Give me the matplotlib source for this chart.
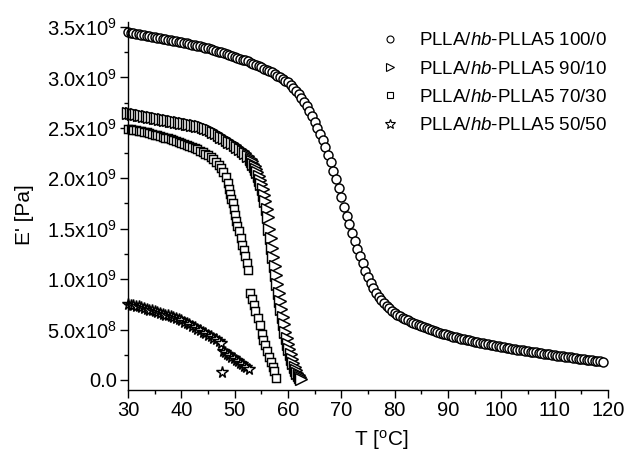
import matplotlib
matplotlib.use("Agg")
import matplotlib.pyplot as plt
from matplotlib.lines import Line2D
from matplotlib.ticker import MultipleLocator, FixedLocator

plt.rcParams['font.family'] = ['Liberation Sans', 'DejaVu Sans']
plt.rcParams['mathtext.fontset'] = 'custom'
plt.rcParams['mathtext.rm'] = 'Liberation Sans'
plt.rcParams['mathtext.it'] = 'Liberation Sans:italic'
plt.rcParams['mathtext.bf'] = 'Liberation Sans:bold'

# ---------------- data (E' in units of 1e9 Pa) ----------------
T_100 = [30.0, 30.5, 31.0, 31.5, 32.0, 32.5, 33.0, 33.5, 34.0, 34.5,
         35.0, 35.5, 36.0, 36.5, 37.0, 37.5, 38.0, 38.5, 39.0, 39.5,
         40.0, 40.5, 41.0, 41.5, 42.0, 42.5, 43.0, 43.5, 44.0, 44.5,
         45.0, 45.5, 46.0, 46.5, 47.0, 47.5, 48.0, 48.5, 49.0, 49.5,
         50.0, 50.5, 51.0, 51.5, 52.0, 52.5, 53.0, 53.5, 54.0, 54.5,
         55.0, 55.5, 56.0, 56.5, 57.0, 57.5, 58.0, 58.5, 59.0, 59.5,
         60.0, 60.5, 61.0, 61.5, 62.0, 62.5, 63.0, 63.5, 64.0, 64.5,
         65.0, 65.5, 66.0, 66.5, 67.0, 67.5, 68.0, 68.5, 69.0, 69.5,
         70.0, 70.5, 71.0, 71.5, 72.0, 72.5, 73.0, 73.5, 74.0, 74.5,
         75.0, 75.5, 76.0, 76.5, 77.0, 77.5, 78.0, 78.5, 79.0, 79.5,
         80.0, 80.5, 81.0, 81.5, 82.0, 82.5, 83.0, 83.5, 84.0, 84.5,
         85.0, 85.5, 86.0, 86.5, 87.0, 87.5, 88.0, 88.5, 89.0, 89.5,
         90.0, 90.5, 91.0, 91.5, 92.0, 92.5, 93.0, 93.5, 94.0, 94.5,
         95.0, 95.5, 96.0, 96.5, 97.0, 97.5, 98.0, 98.5, 99.0, 99.5,
         100.0, 100.5, 101.0, 101.5, 102.0, 102.5, 103.0, 103.5, 104.0, 104.5,
         105.0, 105.5, 106.0, 106.5, 107.0, 107.5, 108.0, 108.5, 109.0, 109.5,
         110.0, 110.5, 111.0, 111.5, 112.0, 112.5, 113.0, 113.5, 114.0, 114.5,
         115.0, 115.5, 116.0, 116.5, 117.0, 117.5, 118.0, 118.5, 119.0]
E_100 = [3.450, 3.445, 3.440, 3.435, 3.430, 3.425, 3.420, 3.415, 3.410, 3.405,
         3.400, 3.395, 3.390, 3.385, 3.380, 3.375, 3.370, 3.365, 3.360, 3.355,
         3.350, 3.344, 3.338, 3.332, 3.326, 3.320, 3.314, 3.308, 3.302, 3.296,
         3.290, 3.282, 3.274, 3.265, 3.257, 3.248, 3.240, 3.230, 3.220, 3.212,
         3.204, 3.195, 3.187, 3.178, 3.170, 3.159, 3.148, 3.136, 3.124, 3.112,
         3.100, 3.088, 3.076, 3.063, 3.050, 3.035, 3.018, 3.000, 2.985, 2.968,
         2.950, 2.925, 2.900, 2.870, 2.840, 2.800, 2.760, 2.715, 2.670, 2.615,
         2.560, 2.500, 2.440, 2.375, 2.310, 2.235, 2.160, 2.075, 1.990, 1.900,
         1.810, 1.720, 1.630, 1.545, 1.460, 1.380, 1.300, 1.225, 1.155, 1.085,
         1.020, 0.960, 0.910, 0.865, 0.825, 0.790, 0.760, 0.735, 0.710, 0.685,
         0.665, 0.648, 0.632, 0.617, 0.603, 0.590, 0.577, 0.565, 0.553, 0.542,
         0.532, 0.522, 0.512, 0.502, 0.493, 0.484, 0.475, 0.467, 0.459, 0.451,
         0.443, 0.436, 0.429, 0.422, 0.415, 0.409, 0.403, 0.397, 0.391, 0.385,
         0.379, 0.373, 0.368, 0.362, 0.357, 0.352, 0.347, 0.342, 0.337, 0.332,
         0.328, 0.323, 0.319, 0.314, 0.310, 0.305, 0.301, 0.297, 0.293, 0.289,
         0.285, 0.281, 0.277, 0.273, 0.269, 0.265, 0.261, 0.257, 0.253, 0.249,
         0.245, 0.241, 0.237, 0.234, 0.230, 0.227, 0.223, 0.219, 0.216, 0.212,
         0.209, 0.205, 0.201, 0.198, 0.194, 0.191, 0.187, 0.184, 0.180]

T_90 = [30.0, 30.5, 31.0, 31.5, 32.0, 32.5, 33.0, 33.5, 34.0, 34.5,
        35.0, 35.5, 36.0, 36.5, 37.0, 37.5, 38.0, 38.5, 39.0, 39.5,
        40.0, 40.5, 41.0, 41.5, 42.0, 42.5, 43.0, 43.5, 44.0, 44.5,
        45.0, 45.5, 46.0, 46.5, 47.0, 47.5, 48.0, 48.5, 49.0, 49.5,
        50.0, 50.5, 51.0, 51.5, 52.0, 52.5, 53.0, 53.25, 53.5, 53.75,
        54.0, 54.25, 54.5, 54.75, 55.0, 55.25, 55.5, 55.75, 56.0, 56.25,
        56.5, 56.75, 57.0, 57.25, 57.5, 57.75, 58.0, 58.25, 58.5, 58.75,
        59.0, 59.25, 59.5, 59.75, 60.0, 60.25, 60.5, 60.75, 61.0, 61.25,
        61.5, 61.75, 62.0, 62.25, 62.5]
E_90 = [2.650, 2.645, 2.640, 2.635, 2.630, 2.625, 2.620, 2.615, 2.610, 2.605,
        2.600, 2.596, 2.592, 2.587, 2.582, 2.577, 2.572, 2.567, 2.562, 2.557,
        2.552, 2.547, 2.542, 2.537, 2.532, 2.527, 2.522, 2.516, 2.510, 2.500,
        2.490, 2.475, 2.460, 2.445, 2.430, 2.410, 2.395, 2.380, 2.360, 2.345,
        2.330, 2.310, 2.290, 2.270, 2.250, 2.220, 2.190, 2.170, 2.145, 2.120,
        2.090, 2.060, 2.025, 1.985, 1.940, 1.890, 1.830, 1.770, 1.700, 1.620,
        1.500, 1.410, 1.310, 1.220, 1.130, 1.040, 0.950, 0.860, 0.780, 0.700,
        0.620, 0.550, 0.480, 0.420, 0.360, 0.310, 0.260, 0.210, 0.170, 0.130,
        0.100, 0.070, 0.045, 0.025, 0.010]

T_70 = [30.0, 30.5, 31.0, 31.5, 32.0, 32.5, 33.0, 33.5, 34.0, 34.5,
        35.0, 35.5, 36.0, 36.5, 37.0, 37.5, 38.0, 38.5, 39.0, 39.5,
        40.0, 40.5, 41.0, 41.5, 42.0, 42.5, 43.0, 43.5, 44.0, 44.5,
        45.0, 45.5, 46.0, 46.5, 47.0, 47.5, 47.9, 48.3, 48.7, 49.0,
        49.2, 49.4, 49.6, 49.8, 50.0, 50.2, 50.5, 50.76, 51.1, 51.45,
        51.75, 52.0, 52.25, 52.5,
        52.8, 53.24, 53.6, 53.9, 54.3, 54.7, 55.1, 55.3, 55.7, 56.1,
        56.5, 56.8, 57.1, 57.4, 57.7]
E_70 = [2.490, 2.487, 2.483, 2.478, 2.473, 2.467, 2.461, 2.455, 2.448, 2.441,
        2.434, 2.427, 2.420, 2.412, 2.404, 2.396, 2.388, 2.379, 2.370, 2.361,
        2.352, 2.342, 2.332, 2.322, 2.311, 2.300, 2.288, 2.275, 2.260, 2.245,
        2.228, 2.210, 2.190, 2.165, 2.135, 2.100, 2.060, 2.010, 1.950, 1.890,
        1.840, 1.790, 1.750, 1.700, 1.640, 1.575, 1.525, 1.475, 1.410, 1.340,
        1.290, 1.230, 1.160, 1.090,
        0.860, 0.800, 0.740, 0.680, 0.610, 0.540, 0.460, 0.400, 0.350, 0.290,
        0.230, 0.180, 0.130, 0.090, 0.020]

T_50 = [30.0, 30.5, 31.0, 31.5, 32.0, 32.5, 33.0, 33.5, 34.0, 34.5,
        35.0, 35.5, 36.0, 36.5, 37.0, 37.5, 38.0, 38.5, 39.0, 39.5,
        40.0, 40.5, 41.0, 41.5, 42.0, 42.5, 43.0, 43.5, 44.0, 44.5,
        45.0, 45.5, 46.0, 46.5, 47.0, 47.5,
        47.6,
        47.8, 48.2, 48.6, 49.0, 49.4, 49.8, 50.2, 50.6, 51.0, 51.4,
        51.8, 52.2, 52.6]
E_50 = [0.750, 0.745, 0.740, 0.735, 0.730, 0.722, 0.714, 0.706, 0.698, 0.690,
        0.680, 0.672, 0.664, 0.656, 0.648, 0.640, 0.630, 0.620, 0.610, 0.600,
        0.590, 0.578, 0.566, 0.554, 0.535, 0.521, 0.507, 0.492, 0.478, 0.463,
        0.448, 0.433, 0.418, 0.402, 0.385, 0.370,
        0.080,
        0.290, 0.275, 0.260, 0.245, 0.230, 0.215, 0.200, 0.185, 0.170, 0.155,
        0.140, 0.125, 0.110]

labels = [r'PLLA/$\it{hb}$-PLLA5 100/0', r'PLLA/$\it{hb}$-PLLA5 90/10',
          r'PLLA/$\it{hb}$-PLLA5 70/30', r'PLLA/$\it{hb}$-PLLA5 50/50']
yticks = [0.0, 0.5, 1.0, 1.5, 2.0, 2.5, 3.0, 3.5]
ytick_labels = ['0.0', r'$\mathregular{5.0x10^{8}}$', r'$\mathregular{1.0x10^{9}}$',
                r'$\mathregular{1.5x10^{9}}$', r'$\mathregular{2.0x10^{9}}$',
                r'$\mathregular{2.5x10^{9}}$', r'$\mathregular{3.0x10^{9}}$',
                r'$\mathregular{3.5x10^{9}}$']
xticks = [30, 40, 50, 60, 70, 80, 90, 100, 110, 120]

# ---------------- figure ----------------
W, H = 631, 453
fig = plt.figure(figsize=(W / 100, H / 100), dpi=100)
ax = fig.add_axes([128 / W, 63 / H, 480 / W, 368 / H])

def scale(vals):
    return [v * 1e9 for v in vals]

series = [
    (T_100, E_100, 'o', 6.5),
    (T_90, E_90, '>', 8.5),
    (T_70, E_70, 's', 5.5),
    (T_50, E_50, '*', 8.5),
]
for (tx, ey, mk, ms) in series:
    ax.plot(tx, scale(ey), linestyle='none', marker=mk, markersize=ms,
            markerfacecolor='white', markeredgecolor='black',
            markeredgewidth=1.05, clip_on=False)

ax.set_xlim(30, 120)
ax.set_ylim(-0.1e9, 3.55e9)

ax.xaxis.set_major_locator(FixedLocator(xticks))
ax.xaxis.set_minor_locator(MultipleLocator(5))
ax.set_xticklabels([str(v) for v in xticks])
ax.yaxis.set_major_locator(FixedLocator([v * 1e9 for v in yticks]))
ax.yaxis.set_minor_locator(MultipleLocator(0.25e9))
ax.set_yticklabels(ytick_labels)

for s in ['top', 'right']:
    ax.spines[s].set_visible(False)
for s in ['left', 'bottom']:
    ax.spines[s].set_linewidth(1.0)

ax.tick_params(axis='both', which='major', direction='out', length=6,
               width=1.0, labelsize=14.5, pad=2)
ax.tick_params(axis='both', which='minor', direction='out', length=3,
               width=1.0)

fig.text(24 / W, 1 - 215 / H, "E' [Pa]", rotation=90, ha='center',
         va='center', fontsize=15)
fig.text(381 / W, 1 - 440 / H, r"T [$\mathregular{^{o}}$C]", ha='center',
         va='center', fontsize=15)

handles = [
    Line2D([], [], linestyle='none', marker='o', markersize=5,
           markerfacecolor='white', markeredgecolor='black', markeredgewidth=0.8),
    Line2D([], [], linestyle='none', marker='>', markersize=6,
           markerfacecolor='white', markeredgecolor='black', markeredgewidth=0.8),
    Line2D([], [], linestyle='none', marker='s', markersize=4.5,
           markerfacecolor='white', markeredgecolor='black', markeredgewidth=0.8),
    Line2D([], [], linestyle='none', marker='*', markersize=7,
           markerfacecolor='white', markeredgecolor='black', markeredgewidth=0.8),
]
fig.legend(handles, labels, loc='upper left', bbox_to_anchor=(381 / W, 1 - 32 / H),
           frameon=False, fontsize=13.5, handlelength=1.0, handletextpad=1.0,
           labelspacing=0.6, borderpad=0, borderaxespad=0)

fig.savefig('out.png', dpi=100)
